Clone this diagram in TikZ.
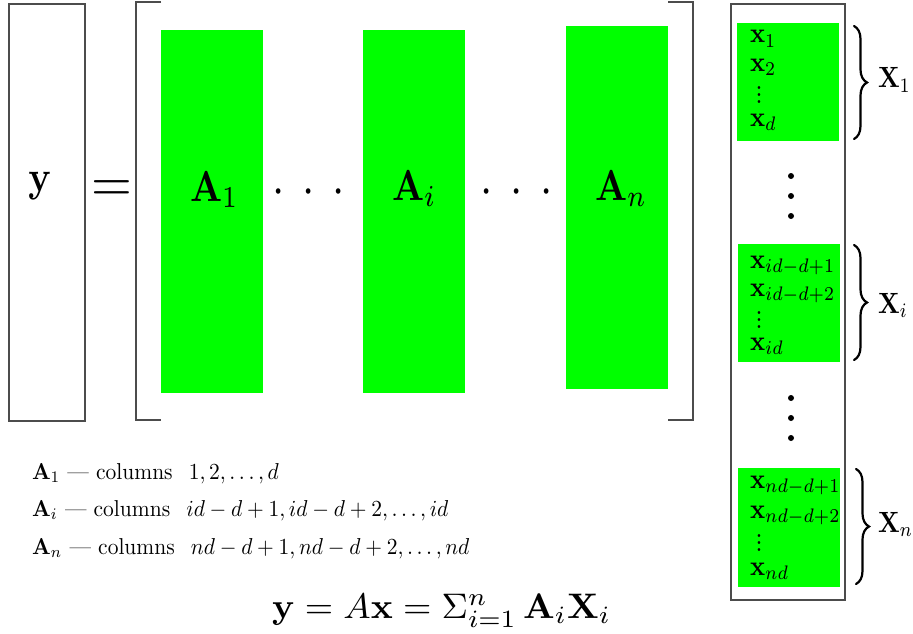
\documentclass[tikz,border=0pt]{standalone}
\usepackage{graphicx}
\usetikzlibrary{decorations.pathreplacing}
\newcommand{\scl}[3]{\scalebox{#1}[#2]{#3}}
\newcommand{\smallvd}{\vbox{\baselineskip=2.4pt\lineskiplimit=-20pt\hbox{.}\hbox{.}\hbox{.}}}
\tikzset{
  frame/.style={draw=black!70, line width=1.1pt},
  greenbox/.style={fill=green!100, draw=none},
  txt/.style={inner sep=0pt, outer sep=0pt},
  boxlbl/.style={txt, anchor=base west},
  xlbl/.style={txt, anchor=base west},
  notelbl/.style={txt, anchor=base west},
  curly/.style={decorate, decoration={brace, amplitude=13pt, aspect=0.5}, line width=2.2pt, line cap=round},
  bigdot/.style={fill=black, draw=none}
}
\newcommand{\myBig}[1]{\scl{3.7}{4.33}{#1}}
\newcommand{\myBox}[1]{\scl{2.5}{2.8}{#1}}
\newcommand{\myXl}[1]{\scl{2.5}{2.93}{#1}}
\newcommand{\myNote}[1]{\scl{2.15}{2.3}{#1}}
\begin{document}
\begin{tikzpicture}[x=1pt,y=-1pt]
\useasboundingbox (0,0) rectangle (913,634);
% y vector
\draw[frame] (9,4) rectangle (85,421);
\node[txt, anchor=base] (ylbl) at (40,191.6) {\myBig{$\mathbf{y}$}};
\node[txt, anchor=base] (eqs) at (111.5,201.7) {\scl{5.25}{5.7}{$=$}};
% matrix bracket
\coordinate (lbt) at (161,2);
\coordinate (lbb) at (161,420);
\coordinate (rbt) at (668,2);
\coordinate (rbb) at (668,420);
\draw[frame] (lbt) -- (136,2) -- (136,420) -- (lbb);
\draw[frame] (rbt) -- (693,2) -- (693,420) -- (rbb);
% blocks
\fill[greenbox] (161,30) rectangle (263,393);
\fill[greenbox] (363,30) rectangle (465,393);
\fill[greenbox] (566,26) rectangle (668,389);
\node[txt, anchor=base west] (a1) at (190,201) {\myBig{$\mathbf{A}_1$}};
\node[txt, anchor=base west] (ai) at (392,200) {\myBig{$\mathbf{A}_i$}};
\node[txt, anchor=base west] (an) at (595,200) {\myBig{$\mathbf{A}_n$}};
\node[txt, anchor=base] (d1) at (309,204) {\scl{4.4}{5.2}{${\cdot}\hskip4.05pt{\cdot}\hskip4.05pt{\cdot}$}};
\node[txt, anchor=base] (d2) at (517,204) {\scl{4.4}{5.2}{${\cdot}\hskip4.05pt{\cdot}\hskip4.05pt{\cdot}$}};
% x vector
\draw[frame] (731,4) rectangle (845,600);
\fill[greenbox] (737,23) rectangle (839,141);
\fill[greenbox] (738,244) rectangle (840,362);
\fill[greenbox] (738,468) rectangle (840,587);
% block 1
\node[boxlbl] (x11) at (750,43) {\myBox{$\mathbf{x}_1$}};
\node[boxlbl] (x12) at (750,71) {\myBox{$\mathbf{x}_2$}};
\node[txt] (x13) at (759,95) {\myBox{\smallvd}};
\node[boxlbl] (x14) at (750,126) {\myBox{$\mathbf{x}_d$}};
% block i
\node[boxlbl] (x21) at (750,268) {\myBox{$\mathbf{x}_{id-d+1}$}};
\node[boxlbl] (x22) at (750,296) {\myBox{$\mathbf{x}_{id-d+2}$}};
\node[txt] (x23) at (759,320) {\myBox{\smallvd}};
\node[boxlbl] (x24) at (750,350) {\myBox{$\mathbf{x}_{id}$}};
% block n
\node[boxlbl] (x31) at (750,488) {\myBox{$\mathbf{x}_{nd-d+1}$}};
\node[boxlbl] (x32) at (750,518) {\myBox{$\mathbf{x}_{nd-d+2}$}};
\node[txt] (x33) at (759,543) {\myBox{\smallvd}};
\node[boxlbl] (x34) at (750,575) {\myBox{$\mathbf{x}_{nd}$}};
% big vertical dots
\fill[bigdot] (791,176) circle (3);
\fill[bigdot] (791,196) circle (3);
\fill[bigdot] (791,216) circle (3);
\fill[bigdot] (791,398) circle (3);
\fill[bigdot] (791,418) circle (3);
\fill[bigdot] (791,438) circle (3);
% braces
\coordinate (b1t) at (854,26);
\coordinate (b1b) at (854,139);
\coordinate (b2t) at (854,245);
\coordinate (b2b) at (854,360);
\coordinate (b3t) at (856,469);
\coordinate (b3b) at (856,584);
\draw[curly] (b1t) -- (b1b);
\draw[curly] (b2t) -- (b2b);
\draw[curly] (b3t) -- (b3b);
\node[xlbl] (X1) at (878,88) {\myXl{$\mathbf{X}_1$}};
\node[xlbl] (Xi) at (878,313) {\myXl{$\mathbf{X}_i$}};
\node[xlbl] (Xn) at (878,532) {\myXl{$\mathbf{X}_n$}};
% notes
\node[notelbl] (n1) at (32,479) {\myNote{$\mathbf{A}_1$ --- columns\hspace{0.75em}$1,2,\ldots,d$}};
\node[notelbl] (n2) at (32,516) {\myNote{$\mathbf{A}_i$ --- columns\hspace{0.75em}$id-d+1,id-d+2,\ldots,id$}};
\node[notelbl] (n3) at (32,554) {\myNote{$\mathbf{A}_n$ --- columns\hspace{0.75em}$nd-d+1,nd-d+2,\ldots,nd$}};
% equation
\node[txt, anchor=base] (eq) at (441.5,618) {\scl{3.65}{3.55}{$\mathbf{y}=A\mathbf{x}=\Sigma_{i=1}^{n}\,\mathbf{A}_i\mathbf{X}_i$}};
\end{tikzpicture}
\end{document}
